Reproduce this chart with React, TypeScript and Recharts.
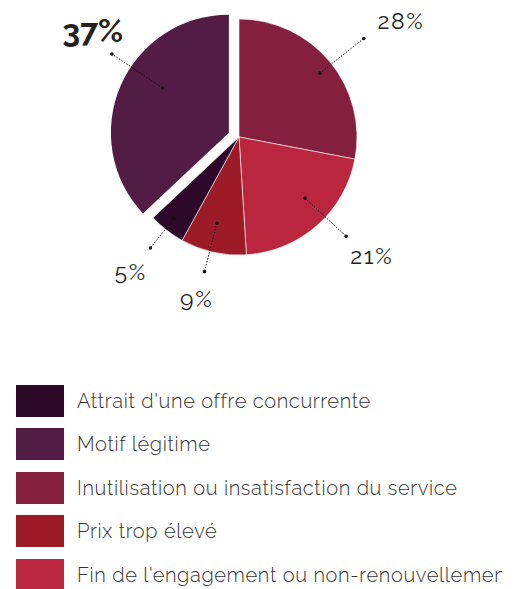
import React from 'react';
import { PieChart, Pie, Cell, Legend } from 'recharts';

// ---- data ----
const sliceNames = [
  'Inutilisation ou insatisfaction du service',
  "Fin de l'engagement ou non-renouvellement",
  'Prix trop élevé',
  "Attrait d'une offre concurrente",
  'Motif légitime',
];
const sliceValues = [28, 21, 9, 5, 37];
const explodedName = 'Motif légitime';

const legendNames = [
  "Attrait d'une offre concurrente",
  'Motif légitime',
  'Inutilisation ou insatisfaction du service',
  'Prix trop élevé',
  "Fin de l'engagement ou non-renouvellement",
];

// ---- styles ----
const colorByName: Record<string, string> = {
  "Attrait d'une offre concurrente": '#2c0829',
  'Motif légitime': '#521c44',
  'Inutilisation ou insatisfaction du service': '#841f3e',
  'Prix trop élevé': '#9d1b26',
  "Fin de l'engagement ou non-renouvellement": '#ba263e',
};

// label geometry per slice: angle shift (clockwise deg), dot radius, end radius, text radius, text angle shift
const labelGeom: Record<string, { a: number; d: number; e: number; t: number; ta: number }> = {
  'Inutilisation ou insatisfaction du service': { a: 1.3, d: 103, e: 159, t: 199, ta: 4 },
  "Fin de l'engagement ou non-renouvellement": { a: -5.8, d: 90, e: 146, t: 178, ta: -6.8 },
  'Prix trop élevé': { a: 1.8, d: 89, e: 139, t: 167, ta: 2.1 },
  "Attrait d'une offre concurrente": { a: 0.8, d: 104, e: 142, t: 173, ta: 1 },
  'Motif légitime': { a: 10.5, d: 80, e: 141, t: 170, ta: 13.4 },
};

const W = 516;
const H = 589;
const CX = 239;
const CY = 137;
const R = 118;
const EXPLODE = 11;
const FONT = 'Raleway, Lato, "Open Sans", sans-serif';

const data = sliceNames.map((name, i) => ({ name, value: sliceValues[i] }));
const total = sliceValues.reduce((a, b) => a + b, 0);

const explodedIdx = sliceNames.indexOf(explodedName);
const before = sliceValues.slice(0, explodedIdx).reduce((a, b) => a + b, 0);
const midDeg = 90 - ((before + sliceValues[explodedIdx] / 2) / total) * 360;
const ex = EXPLODE * Math.cos((midDeg * Math.PI) / 180);
const ey = -EXPLODE * Math.sin((midDeg * Math.PI) / 180);

const RAD = Math.PI / 180;

const renderLabel = (onlyExploded: boolean) => (props: any) => {
  const { cx, cy, midAngle, index, value, name } = props;
  const isEx = name === explodedName;
  if (isEx !== onlyExploded) return null;
  const g = labelGeom[name];
  const ang = (midAngle - g.a) * RAD;
  const tang = (midAngle - g.ta) * RAD;
  const x0 = cx + g.d * Math.cos(ang);
  const y0 = cy - g.d * Math.sin(ang);
  const x1 = cx + g.e * Math.cos(ang);
  const y1 = cy - g.e * Math.sin(ang);
  const fs = isEx ? 32 : 23;
  const x2 = cx + g.t * Math.cos(tang);
  const y2 = cy - g.t * Math.sin(tang) + fs * 0.36;
  return (
    <g key={`lbl-${index}`}>
      <line x1={x0} y1={y0} x2={x1} y2={y1} stroke="#111" strokeWidth={1} strokeDasharray="1.5 1.5" />
      <circle cx={x0} cy={y0} r={1.8} fill="#111" />
      <circle cx={x1} cy={y1} r={1.8} fill="#111" />
      <text
        x={x2}
        y={y2}
        textAnchor="middle"
        fill="#222"
        fontFamily={FONT}
        fontSize={fs}
        fontWeight={isEx ? 700 : 400}
        letterSpacing={isEx ? 0 : 1.6}
      >
        {`${value}%`}
      </text>
    </g>
  );
};

const renderLegend = () => (
  <div style={{ width: 486, overflow: 'hidden', fontFamily: FONT }}>
    {legendNames.map((n) => (
      <div key={n} style={{ display: 'flex', alignItems: 'center', height: 43.5, whiteSpace: 'nowrap' }}>
        <div style={{ width: 48, height: 32, background: colorByName[n], flex: '0 0 48px' }} />
        <span style={{ marginLeft: 13, fontSize: 20, fontWeight: 300, color: '#333', letterSpacing: 0.65 }}>{n}</span>
      </div>
    ))}
  </div>
);

export default function App() {
  return (
    <div style={{ position: 'absolute', left: 0, top: 0, width: W, height: H, background: '#fff' }}>
      <PieChart width={W} height={H} margin={{ top: 0, right: 0, bottom: 0, left: 0 }}>
        <Pie
          data={data}
          dataKey="value"
          nameKey="name"
          cx={CX}
          cy={CY}
          outerRadius={R}
          startAngle={90}
          endAngle={-270}
          stroke="#fff"
          strokeWidth={0.6}
          label={renderLabel(false)}
          labelLine={false}
          isAnimationActive={false}
        >
          {data.map((d) => (
            <Cell
              key={d.name}
              fill={d.name === explodedName ? 'transparent' : colorByName[d.name]}
              stroke={d.name === explodedName ? 'none' : '#fff'}
            />
          ))}
        </Pie>
        <Pie
          data={data}
          dataKey="value"
          nameKey="name"
          cx={CX + ex}
          cy={CY + ey}
          outerRadius={R}
          startAngle={90}
          endAngle={-270}
          stroke="none"
          label={renderLabel(true)}
          labelLine={false}
          isAnimationActive={false}
        >
          {data.map((d) => (
            <Cell key={d.name} fill={d.name === explodedName ? colorByName[d.name] : 'transparent'} stroke="none" />
          ))}
        </Pie>
        <Legend
          content={renderLegend}
          layout="vertical"
          verticalAlign="bottom"
          wrapperStyle={{ position: 'absolute', left: 16, top: 379, width: 486, bottom: 'auto' }}
        />
      </PieChart>
    </div>
  );
}
